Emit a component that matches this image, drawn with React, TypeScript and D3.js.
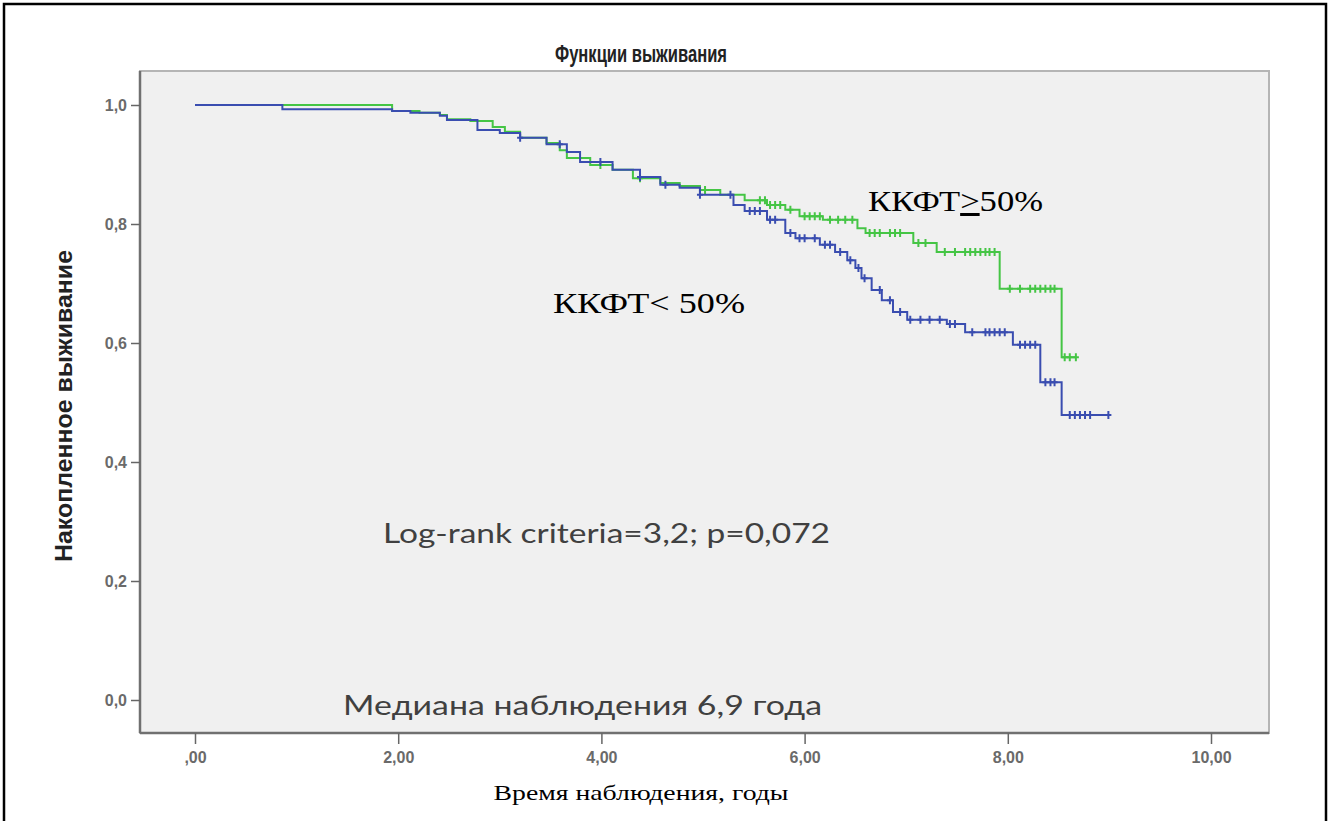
import * as d3 from "d3";
import { useEffect, useRef } from "react";

// ККФТ>=50% (green) step points: time, survival
const greenTimes = [0, 1.94, 2.21, 2.41, 2.48, 2.71, 2.93, 3.05, 3.2, 3.46, 3.59, 3.66, 3.89, 4.11, 4.31, 4.58, 4.77, 4.97, 5.17, 5.41, 5.63, 5.81, 5.95, 6.18, 6.52, 6.6, 7.07, 7.3, 7.92, 8.53];
const greenSurv = [1.0, 0.99, 0.987, 0.983, 0.976, 0.973, 0.963, 0.955, 0.945, 0.936, 0.924, 0.911, 0.899, 0.891, 0.877, 0.869, 0.864, 0.857, 0.849, 0.84, 0.832, 0.824, 0.813, 0.807, 0.793, 0.785, 0.768, 0.753, 0.691, 0.576];
const greenEnd = 8.67;
const greenCensored = [3.99, 4.38, 5.02, 5.56, 5.61, 5.66, 5.71, 5.76, 5.86, 6.0, 6.05, 6.1, 6.15, 6.25, 6.33, 6.4, 6.47, 6.64, 6.69, 6.74, 6.84, 6.89, 6.94, 7.12, 7.19, 7.38, 7.48, 7.58, 7.63, 7.68, 7.73, 7.78, 7.82, 7.87, 8.02, 8.12, 8.22, 8.27, 8.32, 8.37, 8.42, 8.46, 8.56, 8.61, 8.67];

// ККФТ<50% (blue)
const blueTimes = [0, 0.86, 1.94, 2.12, 2.41, 2.48, 2.78, 3.0, 3.2, 3.46, 3.66, 3.79, 4.11, 4.38, 4.58, 4.77, 4.97, 5.3, 5.41, 5.63, 5.81, 5.91, 6.15, 6.3, 6.42, 6.5, 6.56, 6.66, 6.76, 6.87, 7.01, 7.4, 7.58, 8.05, 8.32, 8.53];
const blueSurv = [1.0, 0.993, 0.99, 0.987, 0.982, 0.975, 0.958, 0.953, 0.945, 0.934, 0.921, 0.904, 0.891, 0.879, 0.866, 0.861, 0.849, 0.832, 0.822, 0.807, 0.785, 0.776, 0.765, 0.753, 0.739, 0.726, 0.709, 0.689, 0.672, 0.652, 0.639, 0.632, 0.618, 0.597, 0.534, 0.479];
const blueEnd = 8.99;
const blueCensored = [3.2, 3.59, 3.99, 4.38, 4.63, 4.97, 5.27, 5.46, 5.51, 5.56, 5.66, 5.71, 5.86, 5.95, 6.0, 6.1, 6.2, 6.25, 6.35, 6.45, 6.53, 6.59, 6.74, 6.84, 6.94, 7.04, 7.14, 7.23, 7.33, 7.43, 7.48, 7.65, 7.78, 7.82, 7.87, 7.92, 7.97, 8.12, 8.17, 8.22, 8.27, 8.37, 8.42, 8.46, 8.61, 8.66, 8.71, 8.76, 8.81, 8.99];

const xTicks = [0, 2, 4, 6, 8, 10];
const yTicks = [0, 0.2, 0.4, 0.6, 0.8, 1.0];

const GREEN = "#45c545";
const BLUE = "#3a4db0";

const plot = { left: 140, right: 1269, top: 71, bottom: 733 };

export default function App() {
  const ref = useRef<SVGGElement>(null);

  useEffect(() => {
    const g = d3.select(ref.current);
    g.selectAll("*").remove();

    const x = d3.scaleLinear().domain([0, 10]).range([195, 1211]);
    const y = d3.scaleLinear().domain([0, 1]).range([700, 105]);

    const styleTicks = (sel: d3.Selection<SVGGElement, unknown, null, undefined>) => {
      sel.select(".domain").remove();
      sel.selectAll("line").attr("stroke", "#666").attr("stroke-width", 1.5);
      sel
        .selectAll("text")
        .attr("font-family", "Liberation Sans, Arial, sans-serif")
        .attr("font-size", 16)
        .attr("font-weight", "bold")
        .attr("fill", "#6a6a6a");
    };

    // y axis
    const ya = g
      .append("g")
      .attr("transform", `translate(${plot.left},0)`)
      .call(
        d3
          .axisLeft(y)
          .tickValues(yTicks)
          .tickSize(9)
          .tickPadding(4)
          .tickFormat((d) => d3.format(".1f")(d as number).replace(".", ","))
      );
    styleTicks(ya as any);

    // x axis
    const xa = g
      .append("g")
      .attr("transform", `translate(0,${plot.bottom})`)
      .call(
        d3
          .axisBottom(x)
          .tickValues(xTicks)
          .tickSize(11)
          .tickPadding(8)
          .tickFormat((d) => {
            const s = d3.format(".2f")(d as number).replace(".", ",");
            return s.startsWith("0,") ? s.slice(1) : s;
          })
      );
    styleTicks(xa as any);

    const line = d3
      .line<[number, number]>()
      .x((d) => x(d[0]))
      .y((d) => y(d[1]))
      .curve(d3.curveStepAfter);

    const drawGroup = (
      times: number[],
      surv: number[],
      end: number,
      cens: number[],
      color: string
    ) => {
      const pts: [number, number][] = times.map((t, i) => [t, surv[i]]);
      pts.push([end, surv[surv.length - 1]]);
      g.append("path")
        .attr("d", line(pts))
        .attr("fill", "none")
        .attr("stroke", color)
        .attr("stroke-width", 2);
      const bis = d3.bisector((t: number) => t).right;
      g.append("g")
        .selectAll("path")
        .data(cens)
        .enter()
        .append("path")
        .attr("d", (t) => {
          const s = surv[Math.max(0, bis(times, t) - 1)];
          const cx = x(t);
          const cy = y(s);
          return `M${cx},${cy - 4}V${cy + 4}M${cx - 3},${cy}H${cx + 3}`;
        })
        .attr("stroke", color)
        .attr("stroke-width", 2);
    };

    drawGroup(greenTimes, greenSurv, greenEnd, greenCensored, GREEN);
    drawGroup(blueTimes, blueSurv, blueEnd, blueCensored, BLUE);
  }, []);

  return (
    <svg
      width={1330}
      height={821}
      style={{ position: "absolute", left: 0, top: 0, background: "#fff" }}
    >
      <rect x={4} y={4} width={1322} height={840} fill="none" stroke="#000" strokeWidth={2.5} />
      <rect
        x={plot.left}
        y={plot.top}
        width={plot.right - plot.left}
        height={plot.bottom - plot.top}
        fill="#f0f0f0"
        stroke="#b5b5b5"
        strokeWidth={2}
      />
      <line x1={plot.left} x2={plot.left} y1={plot.top} y2={plot.bottom} stroke="#707070" strokeWidth={2.5} />
      <line x1={plot.left} x2={plot.right} y1={plot.bottom} y2={plot.bottom} stroke="#707070" strokeWidth={2.5} />
      <text
        transform="translate(641,62) scale(1,1.3)"
        textAnchor="middle"
        fontFamily="Liberation Sans, Arial, sans-serif"
        fontWeight="bold"
        fontSize={19}
        fill="#222"
        textLength={172}
        lengthAdjust="spacingAndGlyphs"
      >
        Функции выживания
      </text>
      <text
        transform="translate(72,406) rotate(-90) scale(1,1.25)"
        textAnchor="middle"
        fontFamily="Liberation Sans, Arial, sans-serif"
        fontWeight="bold"
        fontSize={19}
        fill="#222"
        textLength={312}
        lengthAdjust="spacingAndGlyphs"
      >
        Накопленное выживание
      </text>
      <g ref={ref} />
      <text
        x={868}
        y={211}
        fontFamily="Liberation Serif, Times New Roman, serif"
        fontSize={30}
        fill="#000"
        textLength={175}
        lengthAdjust="spacingAndGlyphs"
      >
        ККФТ<tspan textDecoration="underline">&gt;</tspan>50%
      </text>
      <text
        x={553}
        y={313}
        fontFamily="Liberation Serif, Times New Roman, serif"
        fontSize={30}
        fill="#000"
        textLength={192}
        lengthAdjust="spacingAndGlyphs"
      >
        ККФТ&lt; 50%
      </text>
      <text
        x={383}
        y={543}
        fontFamily="Lato, Open Sans, sans-serif"
        fontSize={26}
        fill="#404040"
        textLength={447}
        lengthAdjust="spacingAndGlyphs"
      >
        Log-rank criteria=3,2; p=0,072
      </text>
      <text
        x={343}
        y={715}
        fontFamily="Lato, Open Sans, sans-serif"
        fontSize={27}
        fill="#404040"
        textLength={479}
        lengthAdjust="spacingAndGlyphs"
      >
        Медиана наблюдения 6,9 года
      </text>
      <text
        x={641}
        y={800}
        textAnchor="middle"
        fontFamily="Liberation Serif, Times New Roman, serif"
        fontSize={22}
        fill="#000"
        textLength={295}
        lengthAdjust="spacingAndGlyphs"
      >
        Время наблюдения, годы
      </text>
    </svg>
  );
}
